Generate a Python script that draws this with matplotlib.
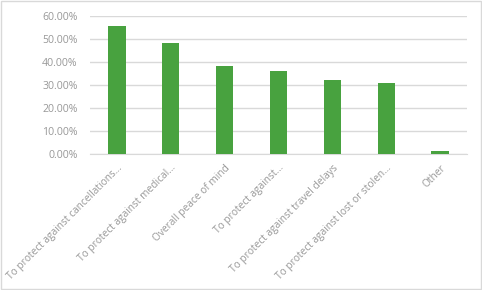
import matplotlib
matplotlib.use('Agg')
import matplotlib.pyplot as plt
from matplotlib.ticker import PercentFormatter, MultipleLocator
from matplotlib.patches import Rectangle

# Reasons for buying travel insurance (share of respondents)
reasons = [
    'To protect against cancellations...',
    'To protect against medical...',
    'Overall peace of mind',
    'To protect against...',
    'To protect against travel delays',
    'To protect against lost or stolen...',
    'Other',
]
shares = [0.557, 0.483, 0.383, 0.361, 0.322, 0.309, 0.013]

bar_color = '#48a23f'
text_color = '#989898'
grid_color = '#d9d9d9'

plt.rcParams['font.family'] = ['Open Sans', 'DejaVu Sans']

fig = plt.figure(figsize=(4.82, 2.90), dpi=100)
ax = fig.add_axes([90 / 482, 1 - 154 / 290, 377 / 482, 138 / 290])

x = range(len(reasons))
ax.bar(x, shares, width=0.32, color=bar_color, zorder=3)

ax.set_xlim(-0.5, len(reasons) - 0.5)
ax.set_ylim(0, 0.6)
ax.yaxis.set_major_locator(MultipleLocator(0.1))
ax.yaxis.set_major_formatter(PercentFormatter(1.0, decimals=2))
ax.grid(axis='y', color=grid_color, linewidth=1, zorder=0)

ax.set_xticks(list(x))
ax.set_xticklabels(reasons, rotation=45, ha='right', rotation_mode='anchor',
                   fontsize=7.3, color=text_color)
for lbl in ax.get_yticklabels():
    lbl.set_fontsize(7.6)
    lbl.set_color(text_color)

ax.tick_params(axis='both', length=0)
ax.tick_params(axis='x', pad=6)
ax.tick_params(axis='y', pad=9)
for side in ['top', 'right', 'left']:
    ax.spines[side].set_visible(False)
ax.spines['bottom'].set_color(grid_color)

# light frame around the whole chart
fig.patches.append(Rectangle((0.002, 0.003), 0.995, 0.993, transform=fig.transFigure,
                             fill=False, edgecolor='#d9d9d9', linewidth=1))

fig.savefig('out.png', dpi=100)
